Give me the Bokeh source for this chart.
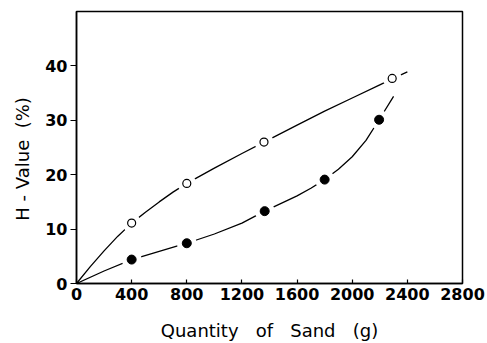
from bokeh.plotting import figure
from bokeh.embed import file_html
from bokeh.resources import INLINE
from bokeh.models import Range1d, FixedTicker

# Measured points (quantity of sand in g, H-value in %)
open_x = [400, 800, 1360, 2290]
open_y = [11.1, 18.4, 26.0, 37.7]
filled_x = [400, 800, 1365, 1800, 2195]
filled_y = [4.4, 7.4, 13.3, 19.1, 30.1]

# Hand-drawn smooth curves through each series
open_curve_x = [0, 100, 200, 300, 400, 500, 600, 700, 800, 1000, 1200, 1360, 1600, 1800, 2000, 2200, 2290, 2400]
open_curve_y = [0, 3.1, 6.0, 8.7, 11.1, 13.1, 15.0, 16.8, 18.4, 21.2, 23.9, 26.0, 29.1, 31.7, 34.1, 36.5, 37.6, 38.9]
filled_curve_x = [0, 200, 400, 600, 800, 1000, 1200, 1365, 1600, 1700, 1800, 1900, 2000, 2100, 2195, 2300]
filled_curve_y = [0, 2.3, 4.4, 5.9, 7.4, 9.1, 11.1, 13.3, 16.1, 17.5, 19.1, 21.0, 23.3, 26.3, 30.1, 34.4]

x_ticks = [0, 400, 800, 1200, 1600, 2000, 2400, 2800]
y_ticks = [0, 10, 20, 30, 40]

FONT = "DejaVu Sans"
NB = "\u00a0"

p = figure(width=487, height=343, output_backend="svg", toolbar_location=None,
           x_range=Range1d(0, 2800), y_range=Range1d(0, 50),
           min_border_left=76, min_border_right=25, min_border_top=11, min_border_bottom=60)

p.grid.visible = False
p.outline_line_color = "black"
p.outline_line_width = 1.5
p.background_fill_color = "white"
p.border_fill_color = "white"

# curves
p.line(open_curve_x, open_curve_y, line_color="black", line_width=1.3, line_join="round")
p.line(filled_curve_x, filled_curve_y, line_color="black", line_width=1.3, line_join="round")

# white halos leave a small gap in the curve around each point
p.scatter(open_x, open_y, size=19, fill_color="white", fill_alpha=1.0, line_color="white", line_width=0)
p.scatter(filled_x, filled_y, size=20, fill_color="white", fill_alpha=1.0, line_color="white", line_width=0)

p.scatter(open_x, open_y, size=8, fill_color="white", line_color="black", line_width=1.2)
p.scatter(filled_x, filled_y, size=9, fill_color="black", line_color="black")

# axes
p.xaxis.ticker = FixedTicker(ticks=x_ticks)
p.yaxis.ticker = FixedTicker(ticks=y_ticks)
for ax in (p.xaxis[0], p.yaxis[0]):
    ax.axis_line_color = "black"
    ax.axis_line_width = 1.5
    ax.major_tick_line_color = "black"
    ax.major_tick_line_width = 1.2
    ax.minor_tick_line_color = None
    ax.major_label_text_font = FONT
    ax.major_label_text_font_size = "16px"
    ax.major_label_text_font_style = "bold"
    ax.major_label_text_color = "black"
    ax.axis_label_text_font = FONT
    ax.axis_label_text_font_size = "18px"
    ax.axis_label_text_font_style = "normal"
    ax.axis_label_text_color = "black"

p.xaxis.major_tick_in = 4
p.xaxis.major_tick_out = 0
p.xaxis.major_label_standoff = 4
p.xaxis.axis_label = NB.join(["Quantity", "", "", "of", "", "", "Sand", "", "", "(g)"])
p.xaxis.axis_label_standoff = 17

p.yaxis.major_tick_in = 0
p.yaxis.major_tick_out = 6
p.yaxis.major_label_standoff = 3
p.yaxis.axis_label = "H" + NB + "-" + NB + "Value" + NB + NB + "(%)" + NB * 4
p.yaxis.axis_label_standoff = 9

open("out.html", "w").write(file_html(p, INLINE))
